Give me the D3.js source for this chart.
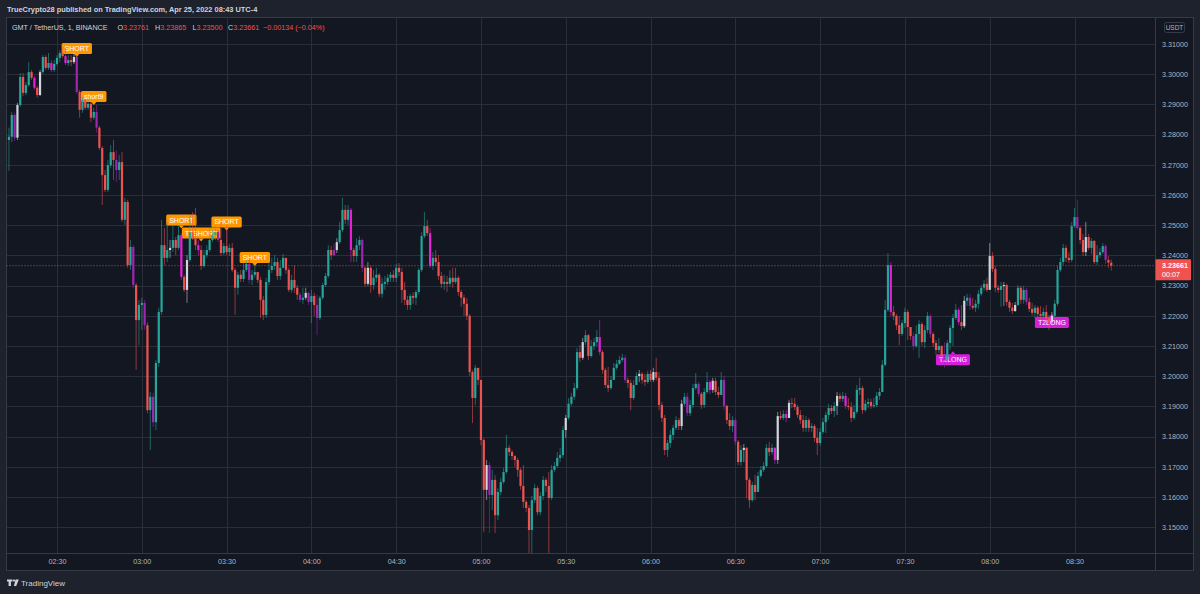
<!DOCTYPE html>
<html>
<head>
<meta charset="utf-8">
<script src="https://cdn.jsdelivr.net/npm/d3@7"></script>
<style>
  html, body { margin: 0; padding: 0; background: #1e222d; }
  svg { display: block; font-family: "Liberation Sans", Arial, sans-serif; }
</style>
</head>
<body>
<svg id="chart" width="1200" height="594"></svg>
<script>
// 1-minute bars, GMT / TetherUS, from 02:13 to 08:43 (open of a bar = close of the previous one).
const firstBar = '02:13';
const firstOpen = 3.2782;

const closes = [
  3.2793, 3.2865, 3.2790, 3.2898, 3.2991, 3.2938, 3.2964, 3.3007, 3.2988, 3.2955,
  3.2931, 3.3007, 3.3057, 3.3021, 3.3037, 3.3014, 3.3034, 3.3054, 3.3070, 3.3060,
  3.3037, 3.3047, 3.3040, 3.3057, 3.2941, 3.2882, 3.2915, 3.2889, 3.2902, 3.2856,
  3.2875, 3.2823, 3.2756, 3.2666, 3.2617, 3.2699, 3.2742, 3.2716, 3.2683, 3.2709,
  3.2518, 3.2577, 3.2368, 3.2428, 3.2302, 3.2186, 3.2236, 3.2243, 3.2169, 3.1888,
  3.1932, 3.1848, 3.2044, 3.2213, 3.2434, 3.2392, 3.2418, 3.2425, 3.2451, 3.2425,
  3.2467, 3.2329, 3.2286, 3.2385, 3.2477, 3.2457, 3.2434, 3.2418, 3.2365, 3.2401,
  3.2418, 3.2451, 3.2467, 3.2477, 3.2451, 3.2408, 3.2431, 3.2411, 3.2425, 3.2352,
  3.2293, 3.2336, 3.2322, 3.2352, 3.2372, 3.2319, 3.2336, 3.2345, 3.2319, 3.2253,
  3.2203, 3.2312, 3.2352, 3.2365, 3.2378, 3.2332, 3.2359, 3.2392, 3.2352, 3.2286,
  3.2319, 3.2293, 3.2270, 3.2253, 3.2260, 3.2276, 3.2246, 3.2266, 3.2236, 3.2193,
  3.2260, 3.2302, 3.2332, 3.2418, 3.2401, 3.2418, 3.2444, 3.2484, 3.2551, 3.2518,
  3.2551, 3.2418, 3.2398, 3.2434, 3.2451, 3.2359, 3.2306, 3.2359, 3.2302, 3.2326,
  3.2336, 3.2273, 3.2306, 3.2312, 3.2326, 3.2336, 3.2326, 3.2359, 3.2345, 3.2286,
  3.2253, 3.2236, 3.2266, 3.2260, 3.2279, 3.2352, 3.2464, 3.2497, 3.2474, 3.2365,
  3.2392, 3.2378, 3.2332, 3.2306, 3.2312, 3.2306, 3.2326, 3.2312, 3.2326, 3.2279,
  3.2260, 3.2240, 3.2200, 3.2014, 3.1928, 3.2028, 3.1988, 3.1789, 3.1624, 3.1706,
  3.1607, 3.1657, 3.1540, 3.1617, 3.1650, 3.1683, 3.1763, 3.1749, 3.1736, 3.1723,
  3.1690, 3.1637, 3.1584, 3.1564, 3.1491, 3.1590, 3.1630, 3.1550, 3.1604, 3.1657,
  3.1637, 3.1597, 3.1690, 3.1703, 3.1730, 3.1739, 3.1822, 3.1862, 3.1909, 3.1932,
  3.1961, 3.2080, 3.2061, 3.2113, 3.2136, 3.2067, 3.2100, 3.2113, 3.2130, 3.2080,
  3.2021, 3.1971, 3.1961, 3.1988, 3.2028, 3.2041, 3.2054, 3.2061, 3.1988, 3.1978,
  3.1928, 3.1971, 3.2001, 3.2008, 3.1988, 3.1981, 3.2008, 3.1988, 3.2014, 3.1995,
  3.1905, 3.1862, 3.1756, 3.1779, 3.1806, 3.1829, 3.1855, 3.1835, 3.1909, 3.1932,
  3.1878, 3.1905, 3.1961, 3.1975, 3.1942, 3.1905, 3.1948, 3.1981, 3.1955, 3.1985,
  3.1948, 3.1938, 3.1988, 3.1902, 3.1855, 3.1835, 3.1855, 3.1783, 3.1716, 3.1756,
  3.1763, 3.1657, 3.1590, 3.1640, 3.1617, 3.1670, 3.1690, 3.1703, 3.1763, 3.1749,
  3.1763, 3.1723, 3.1868, 3.1862, 3.1875, 3.1862, 3.1912, 3.1909, 3.1898, 3.1872,
  3.1855, 3.1829, 3.1855, 3.1829, 3.1835, 3.1796, 3.1779, 3.1816, 3.1848, 3.1872,
  3.1895, 3.1885, 3.1902, 3.1935, 3.1925, 3.1935, 3.1902, 3.1898, 3.1862, 3.1882,
  3.1955, 3.1961, 3.1888, 3.1909, 3.1915, 3.1902, 3.1905, 3.1935, 3.1948, 3.2038,
  3.2220, 3.2368, 3.2213, 3.2200, 3.2169, 3.2140, 3.2176, 3.2213, 3.2163, 3.2133,
  3.2100, 3.2140, 3.2173, 3.2113, 3.2153, 3.2200, 3.2140, 3.2110, 3.2087, 3.2100,
  3.2067, 3.2054, 3.2110, 3.2160, 3.2193, 3.2220, 3.2179, 3.2166, 3.2250, 3.2260,
  3.2233, 3.2227, 3.2240, 3.2273, 3.2293, 3.2306, 3.2286, 3.2398, 3.2355, 3.2293,
  3.2286, 3.2299, 3.2302, 3.2246, 3.2227, 3.2216, 3.2236, 3.2293, 3.2253, 3.2286,
  3.2246, 3.2223, 3.2210, 3.2227, 3.2206, 3.2200, 3.2213, 3.2193, 3.2179, 3.2200,
  3.2240, 3.2352, 3.2378, 3.2425, 3.2392, 3.2385, 3.2497, 3.2527, 3.2491, 3.2451,
  3.2411, 3.2461, 3.2425, 3.2448, 3.2378, 3.2401, 3.2411, 3.2431, 3.2385, 3.2376,
  3.23661
];

const highs = [
  3.2823, 3.2875, 3.2872, 3.2905, 3.3004, 3.3004, 3.2974, 3.3040, 3.3014, 3.2994,
  3.2961, 3.3014, 3.3063, 3.3063, 3.3070, 3.3047, 3.3047, 3.3063, 3.3080, 3.3091,
  3.3088, 3.3063, 3.3063, 3.3073, 3.3063, 3.2948, 3.2925, 3.2918, 3.2915, 3.2908,
  3.2889, 3.2898, 3.2829, 3.2762, 3.2683, 3.2716, 3.2765, 3.2782, 3.2749, 3.2732,
  3.2742, 3.2591, 3.2584, 3.2451, 3.2434, 3.2309, 3.2253, 3.2260, 3.2253, 3.2179,
  3.1948, 3.1945, 3.2054, 3.2227, 3.2518, 3.2491, 3.2511, 3.2451, 3.2501, 3.2461,
  3.2501, 3.2474, 3.2336, 3.2401, 3.2534, 3.2544, 3.2557, 3.2451, 3.2434, 3.2418,
  3.2434, 3.2491, 3.2484, 3.2497, 3.2484, 3.2511, 3.2441, 3.2501, 3.2438, 3.2441,
  3.2359, 3.2345, 3.2352, 3.2378, 3.2385, 3.2385, 3.2352, 3.2365, 3.2345, 3.2329,
  3.2266, 3.2326, 3.2378, 3.2392, 3.2401, 3.2392, 3.2385, 3.2405, 3.2392, 3.2359,
  3.2336, 3.2368, 3.2302, 3.2279, 3.2293, 3.2293, 3.2279, 3.2286, 3.2276, 3.2270,
  3.2266, 3.2309, 3.2342, 3.2434, 3.2431, 3.2438, 3.2457, 3.2511, 3.2591, 3.2567,
  3.2567, 3.2557, 3.2425, 3.2457, 3.2464, 3.2457, 3.2365, 3.2378, 3.2368, 3.2352,
  3.2359, 3.2342, 3.2326, 3.2332, 3.2339, 3.2345, 3.2352, 3.2372, 3.2375, 3.2359,
  3.2312, 3.2266, 3.2273, 3.2279, 3.2286, 3.2359, 3.2477, 3.2544, 3.2518, 3.2491,
  3.2411, 3.2418, 3.2401, 3.2345, 3.2336, 3.2332, 3.2352, 3.2359, 3.2359, 3.2332,
  3.2286, 3.2270, 3.2260, 3.2206, 3.2021, 3.2038, 3.2021, 3.1981, 3.1796, 3.1723,
  3.1716, 3.1690, 3.1673, 3.1630, 3.1664, 3.1697, 3.1806, 3.1772, 3.1756, 3.1739,
  3.1730, 3.1697, 3.1706, 3.1590, 3.1574, 3.1604, 3.1644, 3.1637, 3.1617, 3.1670,
  3.1664, 3.1683, 3.1706, 3.1716, 3.1749, 3.1763, 3.1835, 3.1872, 3.1928, 3.1945,
  3.1978, 3.2094, 3.2103, 3.2127, 3.2153, 3.2140, 3.2120, 3.2127, 3.2153, 3.2186,
  3.2087, 3.2028, 3.2031, 3.2001, 3.2044, 3.2054, 3.2067, 3.2074, 3.2070, 3.1995,
  3.1988, 3.1988, 3.2014, 3.2021, 3.2014, 3.2008, 3.2018, 3.2021, 3.2028, 3.2061,
  3.2014, 3.1915, 3.1872, 3.1789, 3.1822, 3.1839, 3.1868, 3.1862, 3.1922, 3.1945,
  3.1945, 3.1922, 3.1975, 3.2011, 3.1981, 3.1948, 3.1961, 3.2014, 3.1988, 3.1995,
  3.1995, 3.1965, 3.2014, 3.2001, 3.1905, 3.1878, 3.1868, 3.1862, 3.1789, 3.1772,
  3.1776, 3.1766, 3.1664, 3.1650, 3.1673, 3.1683, 3.1703, 3.1716, 3.1776, 3.1783,
  3.1776, 3.1766, 3.1882, 3.1885, 3.1888, 3.1888, 3.1922, 3.1928, 3.1928, 3.1905,
  3.1888, 3.1872, 3.1868, 3.1862, 3.1845, 3.1842, 3.1829, 3.1829, 3.1862, 3.1882,
  3.1909, 3.1905, 3.1915, 3.1948, 3.1945, 3.1948, 3.1945, 3.1928, 3.1915, 3.1905,
  3.1971, 3.1995, 3.1968, 3.1922, 3.1928, 3.1925, 3.1928, 3.1948, 3.1961, 3.2054,
  3.2253, 3.2408, 3.2378, 3.2233, 3.2206, 3.2200, 3.2186, 3.2227, 3.2220, 3.2153,
  3.2146, 3.2169, 3.2186, 3.2179, 3.2169, 3.2213, 3.2206, 3.2146, 3.2120, 3.2127,
  3.2103, 3.2113, 3.2120, 3.2169, 3.2206, 3.2240, 3.2227, 3.2236, 3.2266, 3.2273,
  3.2273, 3.2260, 3.2253, 3.2286, 3.2302, 3.2319, 3.2326, 3.2441, 3.2411, 3.2365,
  3.2302, 3.2312, 3.2312, 3.2306, 3.2253, 3.2243, 3.2246, 3.2302, 3.2299, 3.2299,
  3.2293, 3.2260, 3.2243, 3.2236, 3.2233, 3.2233, 3.2227, 3.2236, 3.2203, 3.2213,
  3.2253, 3.2365, 3.2392, 3.2438, 3.2434, 3.2411, 3.2511, 3.2557, 3.2584, 3.2497,
  3.2471, 3.2511, 3.2471, 3.2457, 3.2451, 3.2434, 3.2425, 3.2441, 3.2438, 3.2398,
  3.23865
];

const lows = [
  3.2680, 3.2775, 3.2779, 3.2782, 3.2892, 3.2928, 3.2931, 3.2958, 3.2981, 3.2948,
  3.2922, 3.2928, 3.3001, 3.3014, 3.3014, 3.3007, 3.3007, 3.3027, 3.3040, 3.3054,
  3.3030, 3.3027, 3.3027, 3.3034, 3.2935, 3.2856, 3.2872, 3.2882, 3.2882, 3.2842,
  3.2849, 3.2806, 3.2749, 3.2567, 3.2610, 3.2610, 3.2690, 3.2650, 3.2643, 3.2650,
  3.2511, 3.2501, 3.2359, 3.2352, 3.2293, 3.2021, 3.2103, 3.2153, 3.2153, 3.1878,
  3.1756, 3.1832, 3.1822, 3.2031, 3.2203, 3.2368, 3.2378, 3.2392, 3.2411, 3.2401,
  3.2418, 3.2319, 3.2279, 3.2243, 3.2378, 3.2451, 3.2418, 3.2401, 3.2352, 3.2359,
  3.2392, 3.2411, 3.2444, 3.2451, 3.2444, 3.2398, 3.2401, 3.2401, 3.2398, 3.2345,
  3.2203, 3.2270, 3.2312, 3.2312, 3.2345, 3.2306, 3.2302, 3.2326, 3.2309, 3.2193,
  3.2186, 3.2193, 3.2302, 3.2342, 3.2352, 3.2319, 3.2319, 3.2372, 3.2339, 3.2279,
  3.2276, 3.2276, 3.2253, 3.2246, 3.2240, 3.2253, 3.2236, 3.2176, 3.2200, 3.2136,
  3.2186, 3.2253, 3.2296, 3.2326, 3.2385, 3.2398, 3.2408, 3.2438, 3.2477, 3.2504,
  3.2501, 3.2378, 3.2378, 3.2378, 3.2418, 3.2345, 3.2296, 3.2299, 3.2276, 3.2286,
  3.2312, 3.2263, 3.2260, 3.2286, 3.2302, 3.2312, 3.2312, 3.2312, 3.2332, 3.2243,
  3.2236, 3.2220, 3.2220, 3.2240, 3.2236, 3.2270, 3.2345, 3.2457, 3.2464, 3.2359,
  3.2352, 3.2365, 3.2319, 3.2293, 3.2286, 3.2279, 3.2296, 3.2293, 3.2306, 3.2266,
  3.2230, 3.2200, 3.2186, 3.2001, 3.1845, 3.1905, 3.1971, 3.1772, 3.1484, 3.1590,
  3.1481, 3.1557, 3.1481, 3.1524, 3.1607, 3.1644, 3.1677, 3.1736, 3.1723, 3.1700,
  3.1667, 3.1624, 3.1564, 3.1550, 3.1415, 3.1415, 3.1580, 3.1540, 3.1540, 3.1590,
  3.1617, 3.1415, 3.1590, 3.1683, 3.1697, 3.1716, 3.1730, 3.1796, 3.1855, 3.1902,
  3.1922, 3.1955, 3.2047, 3.2054, 3.2103, 3.2054, 3.2061, 3.2087, 3.2100, 3.2070,
  3.2008, 3.1961, 3.1948, 3.1955, 3.1988, 3.2021, 3.2038, 3.2047, 3.1978, 3.1961,
  3.1888, 3.1922, 3.1978, 3.1981, 3.1975, 3.1968, 3.1975, 3.1981, 3.1981, 3.1985,
  3.1888, 3.1848, 3.1739, 3.1733, 3.1763, 3.1789, 3.1822, 3.1822, 3.1822, 3.1902,
  3.1868, 3.1868, 3.1895, 3.1955, 3.1932, 3.1892, 3.1895, 3.1942, 3.1942, 3.1945,
  3.1938, 3.1928, 3.1948, 3.1888, 3.1842, 3.1822, 3.1816, 3.1772, 3.1706, 3.1703,
  3.1716, 3.1597, 3.1564, 3.1584, 3.1590, 3.1617, 3.1664, 3.1683, 3.1697, 3.1736,
  3.1739, 3.1710, 3.1710, 3.1855, 3.1855, 3.1848, 3.1862, 3.1895, 3.1888, 3.1862,
  3.1842, 3.1816, 3.1816, 3.1816, 3.1816, 3.1783, 3.1739, 3.1769, 3.1809, 3.1812,
  3.1855, 3.1875, 3.1865, 3.1872, 3.1915, 3.1915, 3.1892, 3.1888, 3.1848, 3.1855,
  3.1875, 3.1938, 3.1875, 3.1882, 3.1895, 3.1892, 3.1895, 3.1898, 3.1922, 3.1948,
  3.2034, 3.2213, 3.2200, 3.2186, 3.2153, 3.2103, 3.2133, 3.2160, 3.2120, 3.2120,
  3.2087, 3.2094, 3.2061, 3.2100, 3.2094, 3.2143, 3.2127, 3.2097, 3.2070, 3.2077,
  3.2054, 3.2028, 3.2047, 3.2087, 3.2100, 3.2186, 3.2169, 3.2153, 3.2160, 3.2233,
  3.2220, 3.2220, 3.2213, 3.2223, 3.2266, 3.2283, 3.2279, 3.2286, 3.2345, 3.2279,
  3.2276, 3.2230, 3.2233, 3.2233, 3.2213, 3.2206, 3.2213, 3.2233, 3.2240, 3.2240,
  3.2236, 3.2213, 3.2200, 3.2193, 3.2196, 3.2186, 3.2193, 3.2179, 3.2153, 3.2173,
  3.2193, 3.2233, 3.2345, 3.2368, 3.2378, 3.2375, 3.2378, 3.2491, 3.2484, 3.2438,
  3.2398, 3.2398, 3.2418, 3.2405, 3.2372, 3.2368, 3.2392, 3.2405, 3.2372, 3.2359,
  3.2350
];

// Bars painted by the script in other colours.
const purpleBars = [2, 24, 31, 38, 44, 48, 51, 74, 85, 103, 106, 109, 115, 125, 170, 218, 240, 244, 253, 257, 320, 326, 331, 340, 360, 378, 388];
const magentaBars = [9, 15, 20, 61, 67, 121, 149, 209, 248, 271, 275, 296, 312, 336];
const whiteBars = [3, 11, 23, 57, 63, 105, 116, 127, 169, 197, 203, 223, 228, 238, 249, 260, 272, 276, 293, 338, 347, 352, 356, 369, 381];

// Signal labels.
const signalBars = [24, 30, 61, 68, 77, 87, 334, 369];
const signalTexts = ['SHORT', 'short9', 'SHORT', 'T2SHORT', 'SHORT', 'SHORT', 'T2LONG', 'T2LONG'];
const signalPrices = [3.3085, 3.2926, 3.2517, 3.2474, 3.2511, 3.2393, 3.2055, 3.2178];

// Axes.
const priceTicks = [3.15, 3.16, 3.17, 3.18, 3.19, 3.20, 3.21, 3.22, 3.23, 3.24, 3.25, 3.26, 3.27, 3.28, 3.29, 3.30, 3.31];
const timeTicks = ['02:30', '03:00', '03:30', '04:00', '04:30', '05:00', '05:30', '06:00', '06:30', '07:00', '07:30', '08:00', '08:30'];

const headerText = 'TrueCrypto28 published on TradingView.com, Apr 25, 2022 08:43 UTC-4';
const symbolText = 'GMT / TetherUS, 1, BINANCE';
const ohlcText = [['O', '3.23761'], ['H', '3.23865'], ['L', '3.23500'], ['C', '3.23661']];
const changeText = '\u22120.00134 (\u22120.04%)';
const lastPrice = 3.23661;
const countdown = '00:07';

const colors = {
  up: '#26a69a', down: '#ef5350', purple: '#9c27b0', magenta: '#e91ed8', white: '#d1d4dc',
  grid: '#2a2e39', border: '#363a45', text: '#b2b5be', bright: '#d1d4dc',
  short: '#ff9800', long: '#d61fdc', panel: '#131722', page: '#1e222d'
};

const toTime = s => {
  const [h, m] = s.split(':').map(Number);
  return new Date(2022, 3, 25, h, m);
};

const bars = closes.map((close, i) => ({
  time: d3.timeMinute.offset(toTime(firstBar), i),
  open: i === 0 ? firstOpen : closes[i - 1],
  close,
  high: highs[i],
  low: lows[i],
  i
}));

const barColor = d => {
  if (purpleBars.includes(d.i)) return colors.purple;
  if (magentaBars.includes(d.i)) return colors.magenta;
  if (whiteBars.includes(d.i)) return colors.white;
  return d.close >= d.open ? colors.up : colors.down;
};

// Dimensions.
const plot = { left: 6.5, top: 17.5, right: 1155.5, bottom: 553.5 };
const panel = { left: 6.5, top: 17.5, right: 1193.5, bottom: 570.5 };

const svg = d3.select('#chart');

// Scales.
const xScale = d3.scaleTime()
  .domain([toTime('02:30'), toTime('08:30')])
  .range([57, 1074.5]);
const yScale = d3.scaleLinear()
  .domain([3.15, 3.31])
  .range([527.3, 44]);

// Backgrounds.
svg.append('rect').attr('width', 1200).attr('height', 594).attr('fill', colors.page);
svg.append('rect')
  .attr('x', panel.left).attr('y', panel.top)
  .attr('width', panel.right - panel.left).attr('height', panel.bottom - panel.top)
  .attr('fill', colors.panel).attr('stroke', colors.border);

svg.append('clipPath').attr('id', 'plot-clip')
  .append('rect')
  .attr('x', plot.left).attr('y', plot.top)
  .attr('width', plot.right - plot.left).attr('height', plot.bottom - plot.top);

const plotArea = svg.append('g').attr('clip-path', 'url(#plot-clip)');

// Grid.
plotArea.append('g')
  .selectAll('line')
  .data(priceTicks)
  .join('line')
  .attr('x1', plot.left).attr('x2', plot.right)
  .attr('y1', d => Math.round(yScale(d)) + 0.5).attr('y2', d => Math.round(yScale(d)) + 0.5)
  .attr('stroke', colors.grid);

plotArea.append('g')
  .selectAll('line')
  .data(timeTicks)
  .join('line')
  .attr('x1', d => Math.round(xScale(toTime(d))) + 0.5).attr('x2', d => Math.round(xScale(toTime(d))) + 0.5)
  .attr('y1', plot.top).attr('y2', plot.bottom)
  .attr('stroke', colors.grid);

// Last price line.
plotArea.append('line')
  .attr('x1', plot.left).attr('x2', plot.right)
  .attr('y1', yScale(lastPrice)).attr('y2', yScale(lastPrice))
  .attr('stroke', colors.down)
  .attr('stroke-dasharray', '1,2')
  .attr('opacity', 0.85);

// Signal labels (drawn under the candles, as in the original).
const signals = plotArea.append('g')
  .selectAll('g')
  .data(signalBars.map((b, k) => ({ bar: bars[b], text: signalTexts[k], price: signalPrices[k] })))
  .join('g')
  .attr('transform', d => `translate(${xScale(d.bar.time)},${yScale(d.price)})`);

signals.each(function (d) {
  const g = d3.select(this);
  const isLong = d.text.includes('LONG');
  const fill = isLong ? colors.long : colors.short;
  const txt = g.append('text')
    .attr('text-anchor', 'middle')
    .attr('dy', '0.35em')
    .attr('font-size', 7)
    .attr('fill', '#ffffff')
    .text(d.text);
  const w = txt.node().getComputedTextLength() + 6;
  g.insert('rect', 'text')
    .attr('x', -w / 2).attr('y', -5.5)
    .attr('width', w).attr('height', 11)
    .attr('rx', 1.5)
    .attr('fill', fill);
  g.insert('path', 'text')
    .attr('d', isLong ? 'M-2.5,-5.5L0,-8.5L2.5,-5.5Z' : 'M-2.5,5.5L0,8.5L2.5,5.5Z')
    .attr('fill', fill);
});

// Candles.
const candles = plotArea.append('g')
  .selectAll('g')
  .data(bars)
  .join('g');

candles.append('line')
  .attr('x1', d => xScale(d.time)).attr('x2', d => xScale(d.time))
  .attr('y1', d => yScale(d.high)).attr('y2', d => yScale(d.low))
  .attr('stroke', barColor)
  .attr('stroke-opacity', 0.55)
  .attr('stroke-width', 1);

candles.append('rect')
  .attr('x', d => xScale(d.time) - 1.1)
  .attr('width', 2.2)
  .attr('y', d => yScale(Math.max(d.open, d.close)))
  .attr('height', d => Math.max(1, Math.abs(yScale(d.open) - yScale(d.close))))
  .attr('fill', barColor);

// Axis separators.
svg.append('line')
  .attr('x1', plot.right).attr('x2', plot.right)
  .attr('y1', panel.top).attr('y2', panel.bottom)
  .attr('stroke', colors.border);
svg.append('line')
  .attr('x1', panel.left).attr('x2', panel.right)
  .attr('y1', plot.bottom).attr('y2', plot.bottom)
  .attr('stroke', colors.border);

// Price axis.
const yAxis = svg.append('g')
  .attr('transform', `translate(${plot.right},0)`)
  .call(d3.axisRight(yScale).tickValues(priceTicks).tickFormat(d3.format('.5f')).tickSize(0).tickPadding(6.5));
yAxis.select('.domain').remove();
yAxis.selectAll('text').attr('fill', colors.text).attr('font-size', 7.2).attr('font-family', null);

// Time axis.
const xAxis = svg.append('g')
  .attr('transform', `translate(0,${plot.bottom})`)
  .call(d3.axisBottom(xScale).tickValues(timeTicks.map(toTime)).tickFormat(d3.timeFormat('%H:%M')).tickSize(0).tickPadding(5));
xAxis.select('.domain').remove();
xAxis.selectAll('text').attr('fill', colors.text).attr('font-size', 7.2).attr('font-family', null);

// Currency box.
svg.append('rect')
  .attr('x', 1164.5).attr('y', 22.5).attr('width', 20).attr('height', 10).attr('rx', 2)
  .attr('fill', 'none').attr('stroke', colors.border);
svg.append('text')
  .attr('x', 1174.5).attr('y', 30).attr('text-anchor', 'middle')
  .attr('font-size', 6.5).attr('fill', colors.text)
  .text('USDT');

// Last price label.
const lastY = yScale(lastPrice);
svg.append('rect')
  .attr('x', plot.right).attr('y', lastY - 6.5).attr('width', 35.5).attr('height', 21)
  .attr('rx', 1)
  .attr('fill', colors.down);
svg.append('text')
  .attr('x', 1162).attr('y', lastY + 2.5)
  .attr('font-size', 7.2).attr('font-weight', 'bold').attr('fill', '#ffffff')
  .text(d3.format('.5f')(lastPrice));
svg.append('text')
  .attr('x', 1162).attr('y', lastY + 11.5)
  .attr('font-size', 7.2).attr('fill', '#ffffff')
  .text(countdown);

// Header.
svg.append('text')
  .attr('x', 7).attr('y', 12)
  .attr('font-size', 7.4).attr('font-weight', 'bold').attr('fill', colors.bright)
  .text(headerText);

// Legend.
const legend = svg.append('text').attr('y', 30).attr('font-size', 7.2);
legend.append('tspan').attr('x', 12).attr('fill', colors.bright).text(symbolText);
const ohlcX = [117.5, 155, 192.5, 228];
ohlcText.forEach(([k, v], n) => {
  legend.append('tspan').attr('x', ohlcX[n]).attr('fill', colors.bright).text(k);
  legend.append('tspan').attr('fill', colors.down).text(v);
});
legend.append('tspan').attr('x', 263).attr('fill', colors.down).text(changeText);

// Footer logo.
const logo = svg.append('g').attr('fill', colors.bright);
logo.append('path').attr('d', 'M7,579.5h5.5v2h-1.6v4.5h-2.3v-4.5h-1.6Z');
logo.append('circle').attr('cx', 14).attr('cy', 580.6).attr('r', 1.1);
logo.append('path').attr('d', 'M15.6,579.5h3.2l-2.6,6.5h-2.3Z');
svg.append('text')
  .attr('x', 21).attr('y', 586)
  .attr('font-size', 8).attr('fill', colors.bright)
  .text('TradingView');
</script>
</body>
</html>
